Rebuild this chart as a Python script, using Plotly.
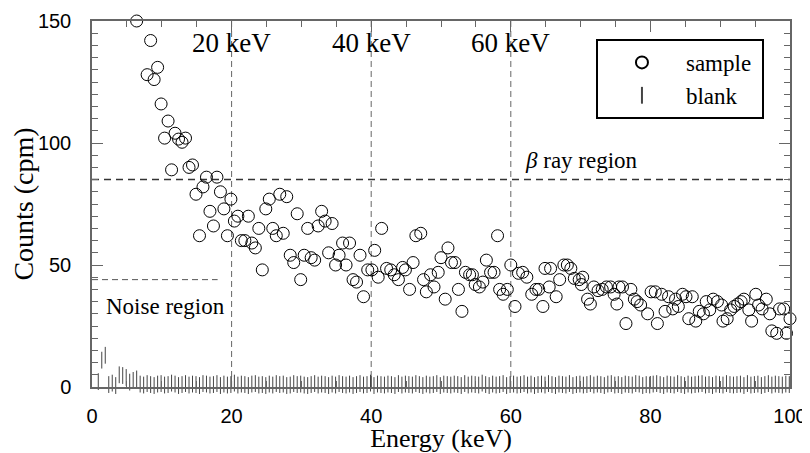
import plotly.graph_objects as go

# ---- data ----
sample_energy = [6.4, 7.9, 8.4, 8.9, 9.4, 9.9, 10.4, 10.9, 11.4, 11.9, 12.4, 12.9, 13.4, 13.9, 14.4,
                 14.9, 15.4, 15.9, 16.4, 16.9, 17.4, 17.9, 18.4, 18.9, 19.4, 19.9, 20.4, 20.9, 21.4,
                 21.9, 22.4, 22.9, 23.4, 23.9, 24.4, 24.9, 25.4, 25.9, 26.4, 26.9, 27.4, 27.9, 28.4,
                 28.9, 29.4, 29.9, 30.4, 30.9, 31.4, 31.9, 32.4, 32.9, 33.4, 33.9, 34.4, 34.9, 35.4,
                 35.9, 36.4, 36.9, 37.4, 37.9, 38.4, 38.9, 39.5, 40.1, 40.5, 41.0, 41.5, 42.2, 42.8,
                 43.3, 43.9, 44.5, 44.9, 45.5, 46.0, 46.4, 47.1, 47.5, 47.9, 48.5, 49.0, 49.6, 50.0,
                 50.6, 51.0, 51.5, 52.0, 52.5, 53.0, 53.5, 54.1, 54.5, 54.9, 55.5, 56.0, 56.5, 57.1,
                 57.6, 58.1, 58.4, 58.9, 59.5, 60.0, 60.6, 61.1, 61.7, 62.3, 63.0, 63.6, 64.0, 64.6,
                 64.9, 65.5, 65.7, 66.5, 67.0, 67.6, 68.1, 68.6, 69.1, 69.8, 70.1, 70.3, 71.0, 71.4,
                 71.9, 72.5, 73.1, 73.7, 74.3, 74.8, 75.2, 75.5, 76.0, 76.5, 77.2, 77.7, 78.1, 78.6,
                 79.6, 80.1, 80.7, 81.0, 81.6, 82.1, 82.6, 83.2, 83.6, 84.0, 84.6, 85.1, 85.5, 86.0,
                 86.5, 87.0, 87.6, 88.0, 88.5, 89.0, 89.6, 90.2, 90.4, 91.0, 91.5, 92.0, 92.5, 93.0,
                 93.4, 94.1, 94.5, 95.1, 95.5, 96.0, 96.6, 97.1, 97.4, 98.1, 98.5, 99.1, 99.5, 100.0]
sample_counts = [150, 128, 142, 126, 131, 116, 102, 109, 89, 104, 101.6, 100.3, 102, 90, 91,
                 79, 62, 82, 86, 72, 66, 86, 80, 73, 62, 77, 68, 70, 60,
                 60, 70, 59, 57, 65, 48, 73, 77, 65, 62, 79, 63, 78, 54,
                 51, 71, 44, 54, 65, 53, 52, 66, 72, 68, 55, 67, 50, 54,
                 59, 50, 59, 44, 43, 54, 37, 48, 48, 56, 45, 65, 48.6, 48,
                 46, 44, 49, 48, 40, 51, 62, 63, 44, 39, 46, 41, 47, 53,
                 36, 57, 51, 51, 40, 31, 47, 46, 46, 42, 41, 43, 52, 47,
                 47, 62, 40, 38, 40, 50, 33, 46.6, 47, 45, 38, 40, 40, 33,
                 48.6, 41, 48.6, 37, 44, 50, 50, 48.6, 44.5, 44, 42, 45, 36, 34,
                 41, 39.5, 40, 41, 41, 38, 34, 41, 41, 26, 40, 36, 35, 33.6,
                 30, 39, 39, 26, 38, 31, 37, 32, 36, 33, 38, 37, 28, 37,
                 27, 31, 30, 35, 31.6, 36, 35, 33.6, 27, 28, 31.6, 33, 34, 35,
                 36, 31.6, 27, 38, 33.6, 32, 36, 30, 23, 22, 32, 32, 22, 28]

blank_energy = [round(0.9 + 0.5 * i, 1) for i in range(199)]
blank_counts = [2.2, 11, 13, 1.0, 1.6, 0.6, 5.0, 4.7, 3.9, 2.0, 2.7, 3.3,
                1.2, 0.8, 1.4, 1.0, 0.6, 1.2, 1.4, 0.8, 1.0, 1.6,
                1.2, 0.6, 1.0, 1.4, 0.8, 1.2, 1.0, 0.6, 1.4, 1.2,
                0.8, 1.0, 1.4, 0.6, 1.2, 0.8, 1.0, 1.6, 0.8, 1.2,
                1.0, 0.6, 1.2, 1.4, 0.8, 1.0, 0.6, 1.2, 0.8, 1.4,
                1.0, 1.2, 0.6, 0.8, 1.4, 1.0, 1.2, 0.8, 0.6, 1.0,
                1.4, 0.8, 1.2, 1.0, 0.6, 1.2, 0.8, 1.4, 1.0, 0.8,
                1.2, 0.6, 1.0, 1.4, 0.8, 1.0, 1.6, 0.6, 1.2, 1.0,
                0.8, 1.2, 1.0, 0.6, 1.4, 0.8, 1.2, 1.0, 0.8, 1.4,
                1.0, 0.6, 1.2, 0.8, 1.0, 1.4, 0.6, 1.2, 1.0, 0.8,
                1.2, 1.0, 0.6, 1.4, 0.8, 1.2, 1.0, 0.8, 1.6, 1.0,
                0.6, 1.2, 0.8, 1.0, 1.4, 0.6, 1.0, 1.2, 0.8, 1.0,
                1.4, 0.8, 1.2, 0.6, 1.0, 1.2, 0.8, 1.4, 1.0, 0.6,
                1.2, 1.0, 0.8, 1.4, 0.6, 1.0, 1.2, 0.8, 1.0, 1.4,
                0.8, 1.2, 1.0, 0.6, 1.2, 1.4, 0.8, 1.0, 0.6, 1.2,
                1.0, 0.8, 1.4, 1.2, 0.6, 1.0, 0.8, 1.2, 1.4, 1.0,
                0.6, 1.2, 1.0, 0.8, 1.4, 1.0, 0.6, 1.2, 0.8, 1.0,
                1.2, 1.4, 0.8, 1.0, 0.6, 1.2, 1.0, 0.8, 1.4, 1.0,
                0.8, 1.0, 1.2, 0.6, 1.4, 0.8, 1.0,
                1.2, 0.6, 1.0, 1.4, 0.8, 1.2, 1.0, 0.8, 1.2, 1.0]

energy_markers = [20, 40, 60]
energy_labels = ["20 keV", "40 keV", "60 keV"]
beta_level = 85
noise_level = 44
noise_end = 18

SERIF = "Liberation Serif"
SANS = "Liberation Sans"

fig = go.Figure()
fig.add_trace(go.Scatter(
    x=blank_energy, y=blank_counts, mode="markers", name="blank",
    marker=dict(symbol="line-ns-open", size=12, color="#444", line=dict(width=1, color="#444")),
    cliponaxis=False))
fig.add_trace(go.Scatter(
    x=sample_energy, y=sample_counts, mode="markers", name="sample\u00a0",
    marker=dict(symbol="circle-open", size=12, color="black", line=dict(width=1, color="black")),
    cliponaxis=False))

for xv in energy_markers:
    fig.add_shape(type="line", x0=xv, x1=xv, y0=0, y1=150, xref="x", yref="y",
                  line=dict(color="#666", width=1, dash="6px,4px"), layer="below")
fig.add_shape(type="line", x0=0, x1=100, y0=beta_level, y1=beta_level, xref="x", yref="y",
              line=dict(color="#333", width=1.5, dash="7px,5px"), layer="below")
fig.add_shape(type="line", x0=0, x1=noise_end, y0=noise_level, y1=noise_level, xref="x", yref="y",
              line=dict(color="#555", width=1, dash="6px,4px"), layer="below")

for xv, lab in zip(energy_markers, energy_labels):
    fig.add_annotation(x=xv, y=141, text=lab, showarrow=False, xanchor="center", yanchor="middle",
                       font=dict(family=SERIF, size=27, color="black"))
fig.add_annotation(x=61.7, y=93, text="<i>β</i> ray region", showarrow=False, xanchor="left",
                   yanchor="middle", font=dict(family=SERIF, size=23, color="black"))
fig.add_annotation(x=1.7, y=33, text="Noise region", showarrow=False, xanchor="left",
                   yanchor="middle", font=dict(family=SERIF, size=23, color="black"))

axis_common = dict(showline=True, linecolor="#666", linewidth=1.5, mirror="allticks",
                   ticks="inside", tickcolor="#666", tickwidth=1, ticklen=11,
                   showgrid=False, zeroline=False, automargin=False,
                   tickfont=dict(family=SANS, size=20, color="black"))

fig.update_xaxes(range=[0, 100], dtick=20, tick0=0, ticklabelstandoff=10,
                 minor=dict(dtick=5, ticks="inside", ticklen=6, tickcolor="#666", showgrid=False),
                 title=dict(text="Energy (keV)", font=dict(family=SERIF, size=26, color="black"),
                            standoff=19),
                 **axis_common)
fig.update_yaxes(range=[0, 150], dtick=50, tick0=0, ticklabelstandoff=15,
                 minor=dict(dtick=5, ticks="inside", ticklen=6, tickcolor="#666", showgrid=False),
                 title=dict(text="Counts (cpm)", font=dict(family=SERIF, size=28, color="black"),
                            standoff=3),
                 **axis_common)

# the page body adds an 8 px offset, so the figure is sized to end at the window edge
fig.update_layout(
    width=802, height=445,
    margin=dict(l=84, r=20, t=13, b=66),
    plot_bgcolor="white", paper_bgcolor="white",
    legend=dict(x=0.722, y=0.951, xanchor="left", yanchor="top", bordercolor="black",
                borderwidth=2, bgcolor="white", traceorder="reversed", itemwidth=78,
                itemsizing="constant", tracegroupgap=0,
                font=dict(family=SERIF, size=23, color="black")),
    showlegend=True,
)

fig.write_html("out.html")
